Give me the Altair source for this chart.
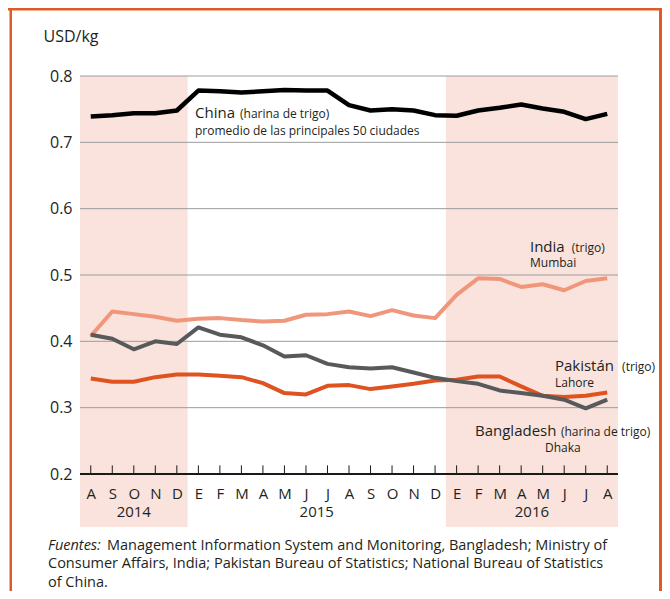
import json
import altair as alt
import pandas as pd

# ---------------- data ----------------
months = ['A', 'S', 'O', 'N', 'D', 'E', 'F', 'M', 'A', 'M', 'J', 'J',
          'A', 'S', 'O', 'N', 'D', 'E', 'F', 'M', 'A', 'M', 'J', 'J', 'A']
years = ['2014', '2015', '2016']
year_center = [2, 10.5, 20.5]

china = [0.739, 0.741, 0.744, 0.744, 0.748, 0.778, 0.777, 0.775, 0.777, 0.779,
         0.778, 0.778, 0.756, 0.748, 0.750, 0.748, 0.741, 0.740, 0.748, 0.752,
         0.757, 0.751, 0.746, 0.735, 0.743]
india = [0.408, 0.445, 0.441, 0.437, 0.431, 0.434, 0.435, 0.432, 0.430, 0.431,
         0.440, 0.441, 0.445, 0.438, 0.447, 0.439, 0.435, 0.470, 0.495, 0.494,
         0.482, 0.486, 0.477, 0.491, 0.495]
pakistan = [0.344, 0.339, 0.339, 0.346, 0.350, 0.350, 0.348, 0.346, 0.337, 0.322,
            0.320, 0.333, 0.334, 0.328, 0.332, 0.336, 0.341, 0.342, 0.347, 0.347,
            0.332, 0.318, 0.316, 0.318, 0.323]
bangladesh = [0.410, 0.404, 0.388, 0.400, 0.396, 0.421, 0.410, 0.406, 0.394, 0.377,
              0.379, 0.366, 0.361, 0.359, 0.361, 0.353, 0.345, 0.340, 0.336, 0.326,
              0.322, 0.318, 0.312, 0.299, 0.312]

series_names = ['India', 'Pakistán', 'Bangladesh', 'China']
series_vals = [india, pakistan, bangladesh, china]
series_colors = ['#F0977B', '#DE5320', '#58595B', '#000000']
series_widths = [4, 4, 4, 4.5]

shade_start = [-0.5, 16.5]
shade_end = [4.5, 24.5]
grid_vals = [0.3, 0.4, 0.5, 0.6, 0.7, 0.8]
y_ticks = [0.2, 0.3, 0.4, 0.5, 0.6, 0.7, 0.8]

FONT = 'Open Sans'
TXT = '#231F20'
ORANGE = '#DF5A24'
SHADE = '#F9E3DC'

W, H = 538, 398

rows = []
for name, vals in zip(series_names, series_vals):
    for i, v in enumerate(vals):
        rows.append({'idx': i, 'value': v, 'series': name})
df = pd.DataFrame(rows)

xscale = alt.Scale(domain=[-0.5, 24.5], nice=False, zero=False)
yscale = alt.Scale(domain=[0.2, 0.8], nice=False, zero=False)

xaxis = alt.Axis(values=list(range(len(months))),
                 labelExpr=json.dumps(months) + '[datum.value]',
                 domain=False, ticks=False, tickSize=0, grid=False,
                 labelPadding=12, labelFontSize=15, labelFont=FONT,
                 labelColor=TXT, labelAngle=0, title=None, zindex=1)
yaxis = alt.Axis(values=y_ticks, format='.1f', domain=False, ticks=False,
                 grid=False, labelPadding=8, labelFontSize=16, labelFont=FONT,
                 labelColor=TXT, title='USD/kg', titleAngle=0, titleX=-37,
                 titleY=-35, titleAlign='left', titleBaseline='alphabetic',
                 titleFont=FONT, titleFontSize=16, titleFontWeight='normal',
                 titleColor=TXT, zindex=1)


def X(field):
    return alt.X(field, type='quantitative', scale=xscale, axis=xaxis)


def Y(field):
    return alt.Y(field, type='quantitative', scale=yscale, axis=yaxis)


one = pd.DataFrame({'a': [0]})

layers = []

# shaded periods
shade_df = pd.DataFrame({'start': shade_start, 'end': shade_end,
                         'top': [0.8] * 2, 'bottom': [0.12] * 2})
layers.append(alt.Chart(shade_df).mark_rect(color=SHADE).encode(
    x=X('start'), x2='end', y=Y('top'), y2='bottom'))

# gridlines
grid_df = pd.DataFrame({'value': grid_vals})
layers.append(alt.Chart(grid_df).mark_rule(color='#9C9C9C', strokeWidth=1).encode(
    y=Y('value')))

# baseline axis line
layers.append(alt.Chart(pd.DataFrame({'value': [0.2]})).mark_rule(
    color='#1A1A1A', strokeWidth=2).encode(y=Y('value')))

# upward ticks
tick_df = pd.DataFrame({'idx': list(range(len(months))),
                        'value': [0.2] * len(months), 'top': [0.213] * len(months)})
layers.append(alt.Chart(tick_df).mark_rule(color='#1A1A1A', strokeWidth=1).encode(
    x=X('idx'), y=Y('value'), y2='top'))

# series lines
for name, col, sw in zip(series_names, series_colors, series_widths):
    layers.append(alt.Chart(df[df['series'] == name]).mark_line(
        color=col, strokeWidth=sw, strokeJoin='round').encode(
        x=X('idx'), y=Y('value')))

# year labels
year_df = pd.DataFrame({'idx': year_center, 'value': [0.1352] * 3, 'label': years})
layers.append(alt.Chart(year_df).mark_text(
    font=FONT, fontSize=15, color=TXT, align='center', baseline='alphabetic').encode(
    x=X('idx'), y=Y('value'), text='label'))

# series annotations (data coordinates)
ann = [
    ('China', 4.844, 0.7367, 15),
    ('(harina de trigo)', 6.935, 0.7367, 12),
    ('promedio de las principales 50 ciudades', 4.844, 0.7111, 12),
    ('India', 20.41, 0.5351, 15),
    ('(trigo)', 22.35, 0.5351, 12),
    ('Mumbai', 20.41, 0.5116, 12),
    ('Pakistán', 21.57, 0.3557, 15),
    ('(trigo)', 24.69, 0.3557, 12),
    ('Lahore', 21.57, 0.3316, 12),
    ('Bangladesh', 17.855, 0.2577, 15),
    ('(harina de trigo)', 21.85, 0.2577, 12),
    ('Dhaka', 21.11, 0.2336, 12),
]
for size in (15, 12):
    sub = pd.DataFrame([{'label': a[0], 'idx': a[1], 'value': a[2]} for a in ann if a[3] == size])
    layers.append(alt.Chart(sub).mark_text(
        font=FONT, fontSize=size, color=TXT, align='left', baseline='alphabetic').encode(
        x=X('idx'), y=Y('value'), text='label'))

# footer (source note)
foot = [
    ('Fuentes:', -32, 473.5, 'italic'),
    ('Management Information System and Monitoring, Bangladesh; Ministry of', 27, 473.5, 'normal'),
    ('Consumer Affairs, India; Pakistan Bureau of Statistics; National Bureau of Statistics', -32, 492, 'normal'),
    ('of China.', -32, 510.5, 'normal'),
]
for text, fx, fy, style in foot:
    layers.append(alt.Chart(one).mark_text(
        text=text, font=FONT, fontSize=14.5, fontStyle=style, color=TXT,
        align='left', baseline='alphabetic').encode(
        x=alt.value(fx), y=alt.value(fy)))

# outer frame
frame = [
    (-72, 582, -68, -65.5),   # top band
    (-70.5, -68, -68, 520),   # left border
    (579, 582, -68, 520),     # right border
]
for x1, x2, y1, y2 in frame:
    layers.append(alt.Chart(one).mark_rect(color=ORANGE).encode(
        x=alt.value(x1), x2=alt.value(x2), y=alt.value(y1), y2=alt.value(y2)))

chart = alt.layer(*layers).properties(
    width=W, height=H,
    autosize=alt.AutoSizeParams(type='none'),
    padding={'left': 72, 'top': 68, 'right': 44, 'bottom': 117},
    background='white',
).configure_view(stroke=None)

chart.save('out.html', embed_options={'renderer': 'svg', 'actions': False})
